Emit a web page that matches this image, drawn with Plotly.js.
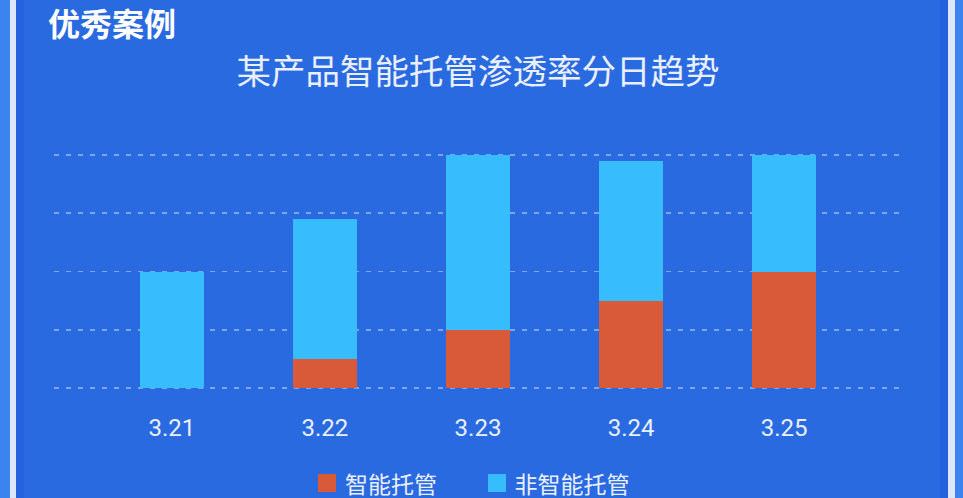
<!DOCTYPE html>
<html>
<head>
<meta charset="utf-8">
<script src="https://cdn.plot.ly/plotly-3.0.1.min.js"></script>
<style>
html,body{margin:0;padding:0;background:#2a6ae0;}
#chart{width:963px;height:498px;}
</style>
</head>
<body>
<div id="chart"></div>
<script>
const categories = ['3.21', '3.22', '3.23', '3.24', '3.25'];
const smartValues = [0, 5, 10, 15, 20];
const nonSmartValues = [20, 24, 30, 24, 20];
const seriesNames = ['智能托管', '非智能托管'];
const yTicks = [0, 10, 20, 30, 40];
const chartTitle = '某产品智能托管渗透率分日趋势';
const badgeText = '优秀案例';

const colors = ['#d95a38', '#37bcfd'];
const xIdx = categories.map((c, i) => i);

const traces = [
  {type: 'bar', x: xIdx, y: smartValues, name: seriesNames[0],
   marker: {color: colors[0], line: {width: 0}}, width: 0.42, showlegend: false, hoverinfo: 'skip'},
  {type: 'bar', x: xIdx, y: nonSmartValues, name: seriesNames[1],
   marker: {color: colors[1], line: {width: 0}}, width: 0.42, showlegend: false, hoverinfo: 'skip'}
];

const W = 963, H = 498;
const px = v => v / W, py = v => 1 - v / H;

const shapes = [
  {type: 'rect', xref: 'paper', yref: 'paper', x0: 0, x1: px(10), y0: 0, y1: 1, fillcolor: '#3b83ee', line: {width: 0}, layer: 'below'},
  {type: 'rect', xref: 'paper', yref: 'paper', x0: px(955), x1: 1, y0: 0, y1: 1, fillcolor: '#3b83ee', line: {width: 0}, layer: 'below'},
  {type: 'rect', xref: 'paper', yref: 'paper', x0: px(10), x1: px(16), y0: 0, y1: 1, fillcolor: '#dde7fb', line: {width: 0}, layer: 'below'},
  {type: 'rect', xref: 'paper', yref: 'paper', x0: px(948), x1: px(955), y0: 0, y1: 1, fillcolor: '#dde7fb', line: {width: 0}, layer: 'below'},
  {type: 'rect', xref: 'paper', yref: 'paper', x0: px(16), x1: px(24), y0: 0, y1: 1, fillcolor: '#2462df', line: {width: 0}, layer: 'below'},
  {type: 'rect', xref: 'paper', yref: 'paper', x0: px(940), x1: px(948), y0: 0, y1: 1, fillcolor: '#2462df', line: {width: 0}, layer: 'below'},
  {type: 'rect', xref: 'paper', yref: 'paper', x0: px(318), x1: px(336), y0: py(492), y1: py(474), fillcolor: colors[0], line: {width: 0}},
  {type: 'rect', xref: 'paper', yref: 'paper', x0: px(488), x1: px(506), y0: py(492), y1: py(474), fillcolor: colors[1], line: {width: 0}}
];

const txtColor = '#e9effc';
const annotations = [
  {xref: 'paper', yref: 'paper', x: px(112), y: py(22), xanchor: 'center', yanchor: 'middle', showarrow: false,
   width: 150, height: 42, align: 'center', valign: 'middle', borderpad: 0,
   text: '<b>' + badgeText + '</b>', font: {family: 'Noto Sans CJK SC', size: 32, color: '#ffffff'}},
  {xref: 'paper', yref: 'paper', x: px(478), y: py(69), xanchor: 'center', yanchor: 'middle', showarrow: false,
   width: 540, height: 48, align: 'center', valign: 'middle',
   text: chartTitle, font: {family: 'Noto Sans CJK SC', size: 34.5, color: txtColor}},
  {xref: 'paper', yref: 'paper', x: px(391), y: py(482.5), xanchor: 'center', yanchor: 'middle', showarrow: false,
   width: 110, height: 31, align: 'center', valign: 'middle', borderpad: 0,
   text: seriesNames[0], font: {family: 'Noto Sans CJK SC', size: 23, color: txtColor}},
  {xref: 'paper', yref: 'paper', x: px(572), y: py(482.5), xanchor: 'center', yanchor: 'middle', showarrow: false,
   width: 136, height: 31, align: 'center', valign: 'middle', borderpad: 0,
   text: seriesNames[1], font: {family: 'Noto Sans CJK SC', size: 23, color: txtColor}}
];

const layout = {
  width: W, height: H,
  margin: {l: 0, r: 0, t: 0, b: 0},
  paper_bgcolor: '#2a6ae0',
  plot_bgcolor: 'rgba(0,0,0,0)',
  barmode: 'stack',
  bargap: 0,
  showlegend: false,
  xaxis: {
    domain: [px(54), px(902)],
    range: [-0.77, 4.77],
    tickmode: 'array', tickvals: xIdx, ticktext: categories,
    showgrid: false, zeroline: false, showline: false, ticks: '',
    tickfont: {family: 'Roboto', size: 24, color: txtColor},
    ticklabelstandoff: 20
  },
  yaxis: {
    domain: [py(391), py(152)],
    range: [-0.5, 40.5],
    tickmode: 'array', tickvals: yTicks,
    showticklabels: false,
    showgrid: true, gridcolor: 'rgba(210,225,255,0.5)', griddash: '5px,7px', gridwidth: 1.5,
    zeroline: false, showline: false, ticks: ''
  },
  shapes: shapes,
  annotations: annotations
};

Plotly.newPlot('chart', traces, layout, {displayModeBar: false, staticPlot: true});
</script>
</body>
</html>
